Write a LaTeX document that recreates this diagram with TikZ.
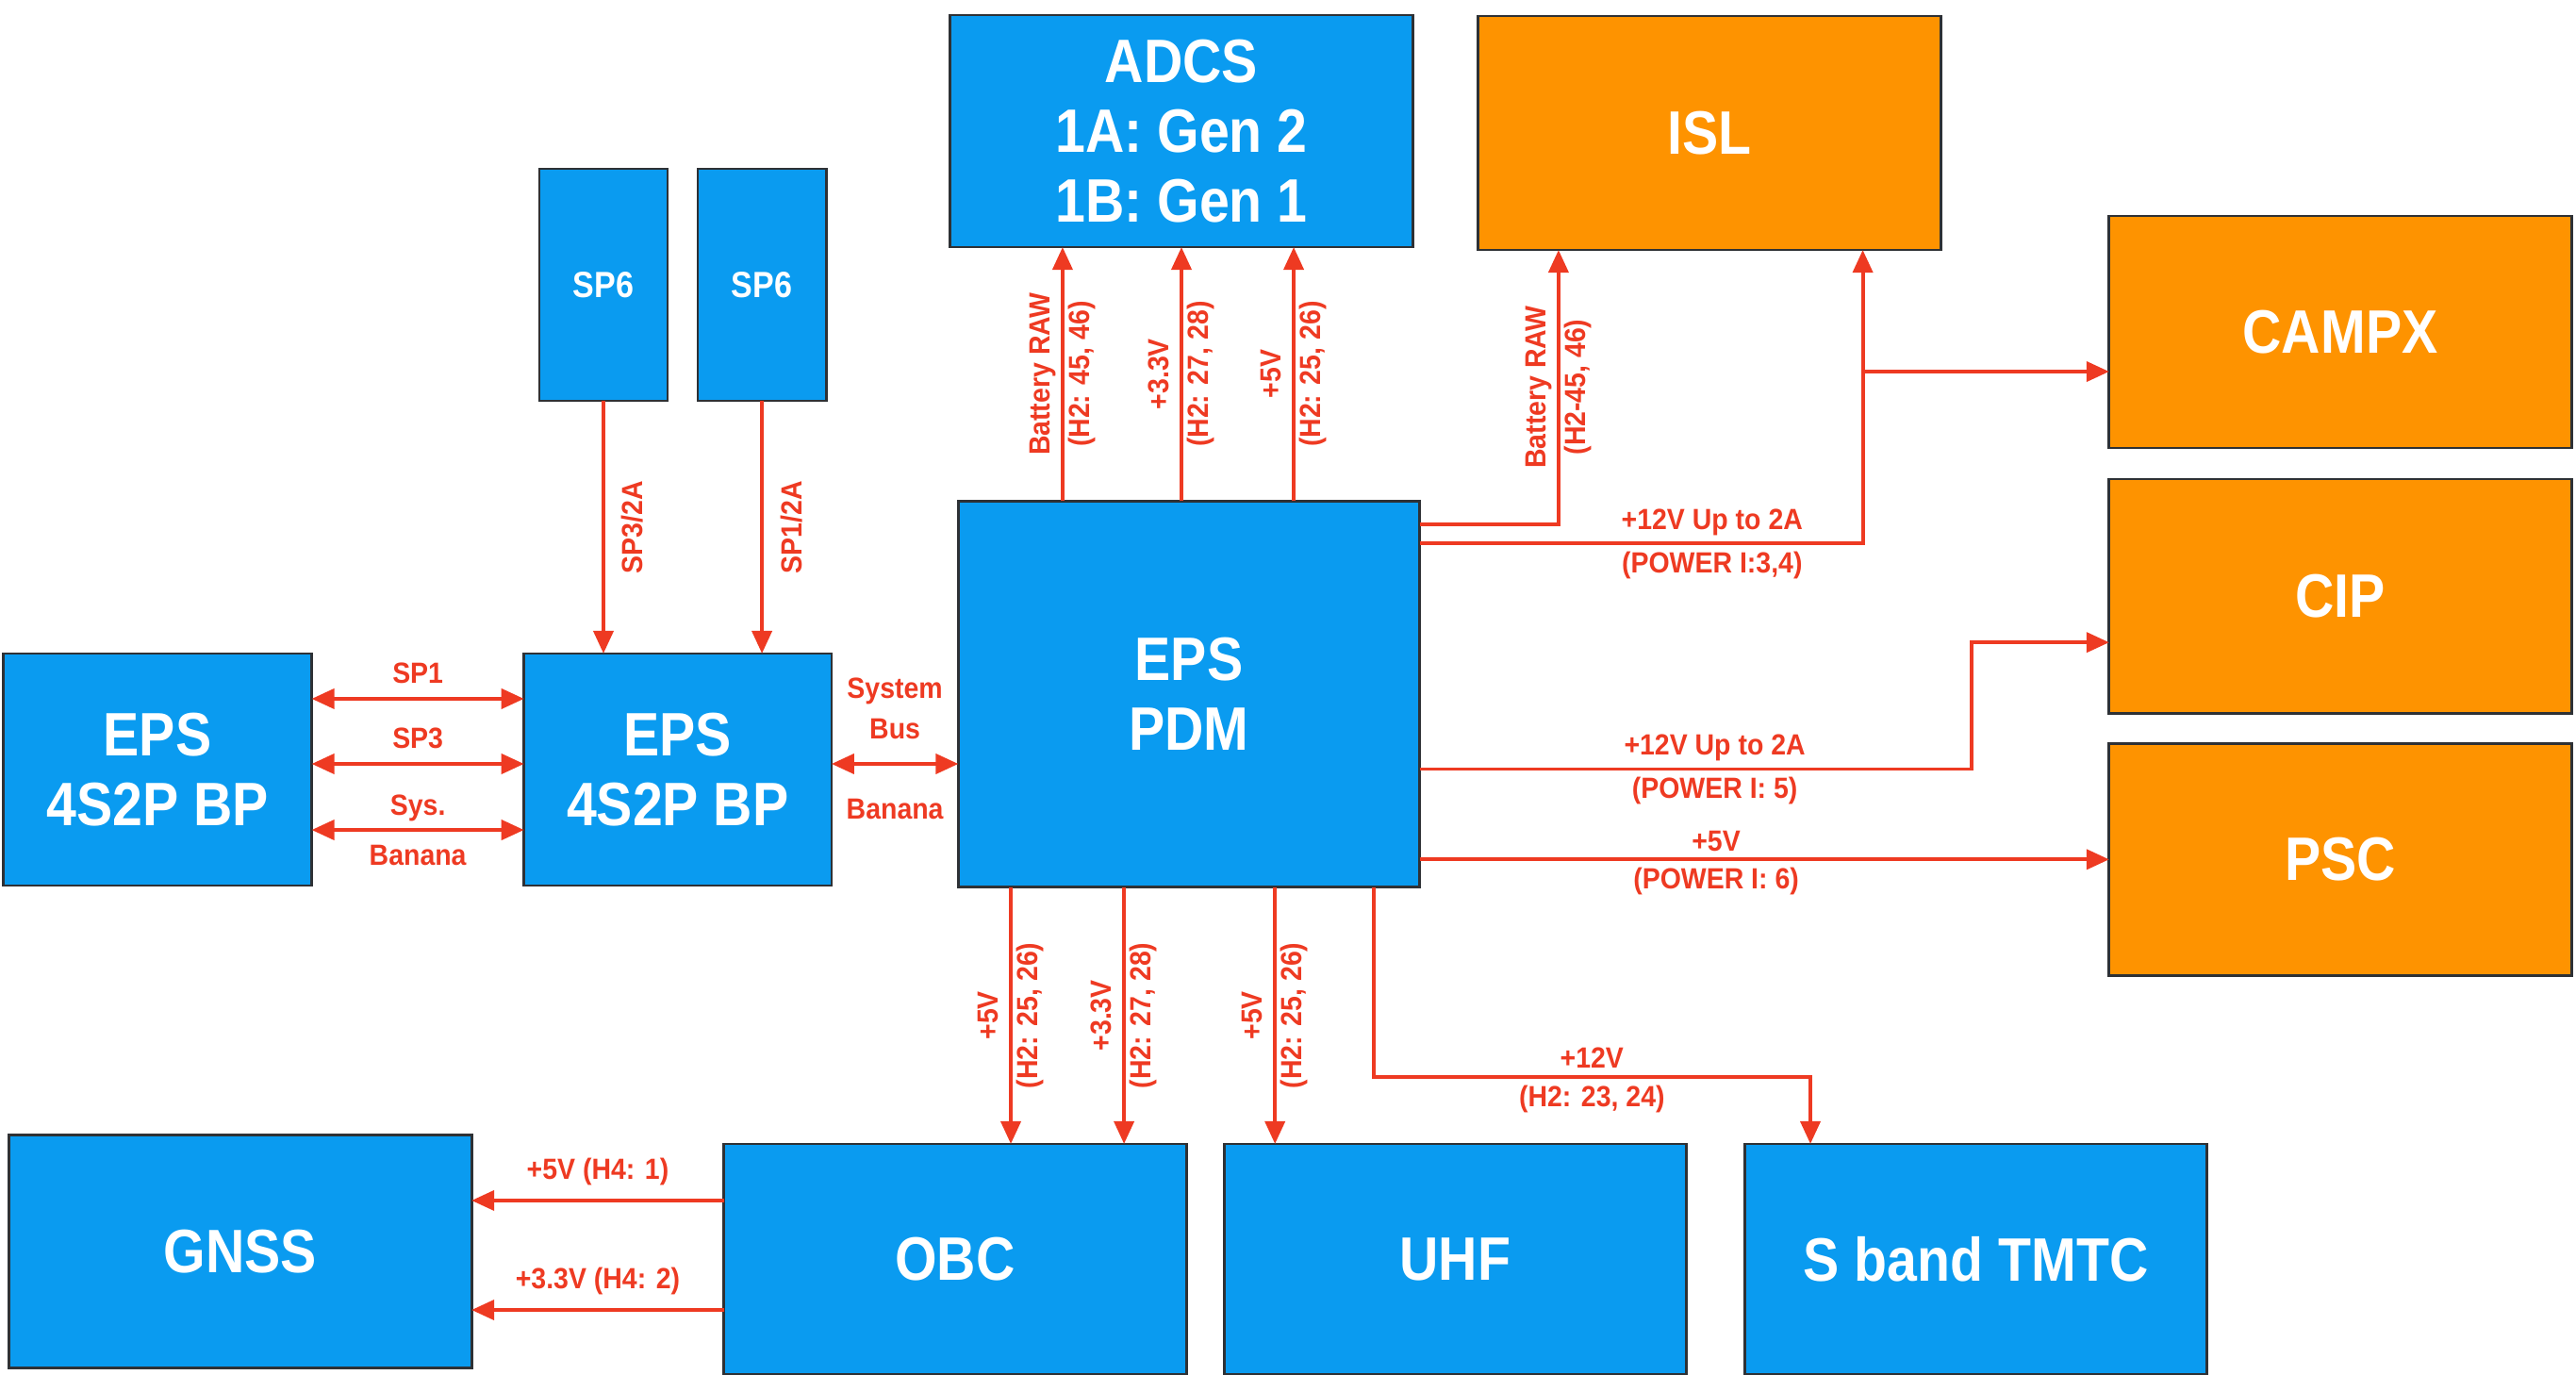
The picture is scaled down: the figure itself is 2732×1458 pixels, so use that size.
\documentclass[tikz,border=0pt]{standalone}
\usepackage{fontspec}
\setmainfont{Liberation Sans}
\newfontfamily\boxfont{Liberation Sans}[FakeStretch=0.88]
\newfontfamily\lblfont{Liberation Sans}[FakeStretch=0.92]
\usetikzlibrary{positioning,arrows.meta}
\definecolor{SatBlue}{HTML}{0A9BF0}
\definecolor{SatOrange}{HTML}{FE9300}
\definecolor{SatRed}{HTML}{EE3A22}
\definecolor{SatEdge}{HTML}{2E3135}

\begin{document}
\begin{tikzpicture}[
  x=0.01cm, y=-0.01cm,
  node distance=3.3mm and 4mm,
  box/.style={draw=SatEdge, fill=SatBlue, line width=0.8pt, minimum width=4.9cm, minimum height=2.46cm, inner sep=0pt, outer sep=0pt, align=center, text=white, font=\boxfont\bfseries\fontsize{18.5}{21}\selectfont},
  obox/.style={box, fill=SatOrange},
  spbox/.style={box, minimum width=1.36cm, font=\boxfont\bfseries\fontsize{11}{12}\selectfont},
  arrow/.style={-{Triangle[length=2.4mm,width=2.1mm]}, line width=1.1pt, SatRed},
  twoway/.style={arrow, {Triangle[length=2.4mm,width=2.1mm]}-{Triangle[length=2.4mm,width=2.1mm]}},
  lbl/.style={text=SatRed, font=\lblfont\bfseries\fontsize{8.8}{12}\selectfont, inner sep=2pt, align=center}
]
\useasboundingbox (0,0) rectangle (2732,1458);

% top row
\node[box] (adcs) at (1253,139) {ADCS\\1A: Gen 2\\1B: Gen 1};
\node[obox, minimum height=2.48cm] (isl) at (1813,141) {ISL};
\node[obox] (campx) at (2482,352) {CAMPX};
\node[obox, minimum height=2.48cm, below=of campx] (cip) {CIP};
\node[obox, below=3.2mm of cip] (psc) {PSC};

% power source side
\node[spbox] (sp6a) at (640,302) {SP6};
\node[spbox, right=3.2mm of sp6a] (sp6b) {SP6};
\node[box, minimum width=3.27cm] (bpa) at (167,816) {EPS\\4S2P BP};
\node[box, minimum width=3.26cm, right=2.25cm of bpa] (bpb) {EPS\\4S2P BP};
\node[box, minimum width=4.89cm, minimum height=4.09cm] (pdm) at (1261,736) {EPS\\PDM};

% bottom row
\node[box, minimum height=2.47cm] (gnss) at (255,1327) {GNSS};
\node[box, minimum height=2.44cm] (obc) at (1013,1335) {OBC};
\node[box, minimum height=2.44cm, right=4mm of obc] (uhf) {UHF};
\node[box, minimum height=2.44cm, right=6.2mm of uhf] (sband) {S band TMTC};

% solar panels to battery pack
\draw[arrow] (sp6a) -- (sp6a |- bpb.north) node[midway, lbl, rotate=90, anchor=north, inner sep=5pt] {SP3/2A};
\draw[arrow] (sp6b) -- (sp6b |- bpb.north) node[midway, lbl, rotate=90, anchor=north, inner sep=5pt] {SP1/2A};

% battery pack links
\draw[twoway] ([yshift=0.75cm]bpa.east) -- ([yshift=0.75cm]bpb.west) node[midway, lbl, above=2pt] {SP1};
\draw[twoway] ([yshift=0.06cm]bpa.east) -- ([yshift=0.06cm]bpb.west) node[midway, lbl, above=2pt] {SP3};
\draw[twoway] ([yshift=-0.64cm]bpa.east) -- ([yshift=-0.64cm]bpb.west) node[midway, lbl, above] {Sys.} node[midway, lbl, below=2pt] {Banana};
\draw[twoway] ([yshift=0.06cm]bpb.east) -- ([yshift=0.06cm]bpb.east -| pdm.west) node[midway, lbl, above=5pt] {System\\Bus} node[midway, lbl, below=8pt] {Banana};

% PDM to ADCS and ISL
\draw[arrow] ([xshift=-1.26cm]adcs.south |- pdm.north) -- ([xshift=-1.26cm]adcs.south) node[midway, lbl, rotate=90] {Battery RAW\\(H2: 45, 46)};
\draw[arrow] (adcs.south |- pdm.north) -- (adcs.south) node[midway, lbl, rotate=90] {+3.3V\\(H2: 27, 28)};
\draw[arrow] ([xshift=1.19cm]adcs.south |- pdm.north) -- ([xshift=1.19cm]adcs.south) node[midway, lbl, rotate=90] {+5V\\(H2: 25, 26)};
\draw[arrow] ([yshift=1.8cm]pdm.east) -| node[pos=0.75, lbl, rotate=90] {Battery RAW\\(H2-45, 46)} ([xshift=-1.6cm]isl.south);
\coordinate (islin) at ([xshift=1.625cm]isl.south);
\draw[arrow] ([yshift=1.595cm]pdm.east) -| node[pos=0.33, lbl, above] {+12V Up to 2A} node[pos=0.33, lbl, below] {(POWER I:3,4)} (islin);
\draw[arrow] ([yshift=-0.42cm]campx.west -| islin) -- ([yshift=-0.42cm]campx.west);

% PDM to payloads
\draw[arrow] ([yshift=-0.795cm]pdm.east) -- node[pos=0.535, lbl, above] {+12V Up to 2A} node[pos=0.535, lbl, below] {(POWER I: 5)} ++(585,0) |- ([yshift=-0.49cm]cip.west);
\draw[arrow] (pdm.east |- psc.west) -- (psc.west) node[pos=0.43, lbl, above] {+5V} node[pos=0.43, lbl, below] {(POWER I: 6)};

% PDM to bottom row
\draw[arrow] ([xshift=0.59cm]obc.north |- pdm.south) -- ([xshift=0.59cm]obc.north) node[midway, lbl, rotate=90] {+5V\\(H2: 25, 26)};
\draw[arrow] ([xshift=1.79cm]obc.north |- pdm.south) -- ([xshift=1.79cm]obc.north) node[midway, lbl, rotate=90] {+3.3V\\(H2: 27, 28)};
\draw[arrow] ([xshift=-1.91cm]uhf.north |- pdm.south) -- ([xshift=-1.91cm]uhf.north) node[midway, lbl, rotate=90] {+5V\\(H2: 25, 26)};
\draw[arrow] ([xshift=1.955cm]pdm.south) -- ++(0,201) -| node[pos=0.25, lbl, above] {+12V} node[pos=0.25, lbl, below] {(H2: 23, 24)} ([xshift=-1.755cm]sband.north);

% OBC to GNSS
\draw[arrow] ([yshift=0.62cm]obc.west) -- ([yshift=0.62cm]obc.west -| gnss.east) node[midway, lbl, above=2pt] {+5V (H4: 1)};
\draw[arrow] ([yshift=-0.54cm]obc.west) -- ([yshift=-0.54cm]obc.west -| gnss.east) node[midway, lbl, above=2pt] {+3.3V (H4: 2)};
\end{tikzpicture}
\end{document}
